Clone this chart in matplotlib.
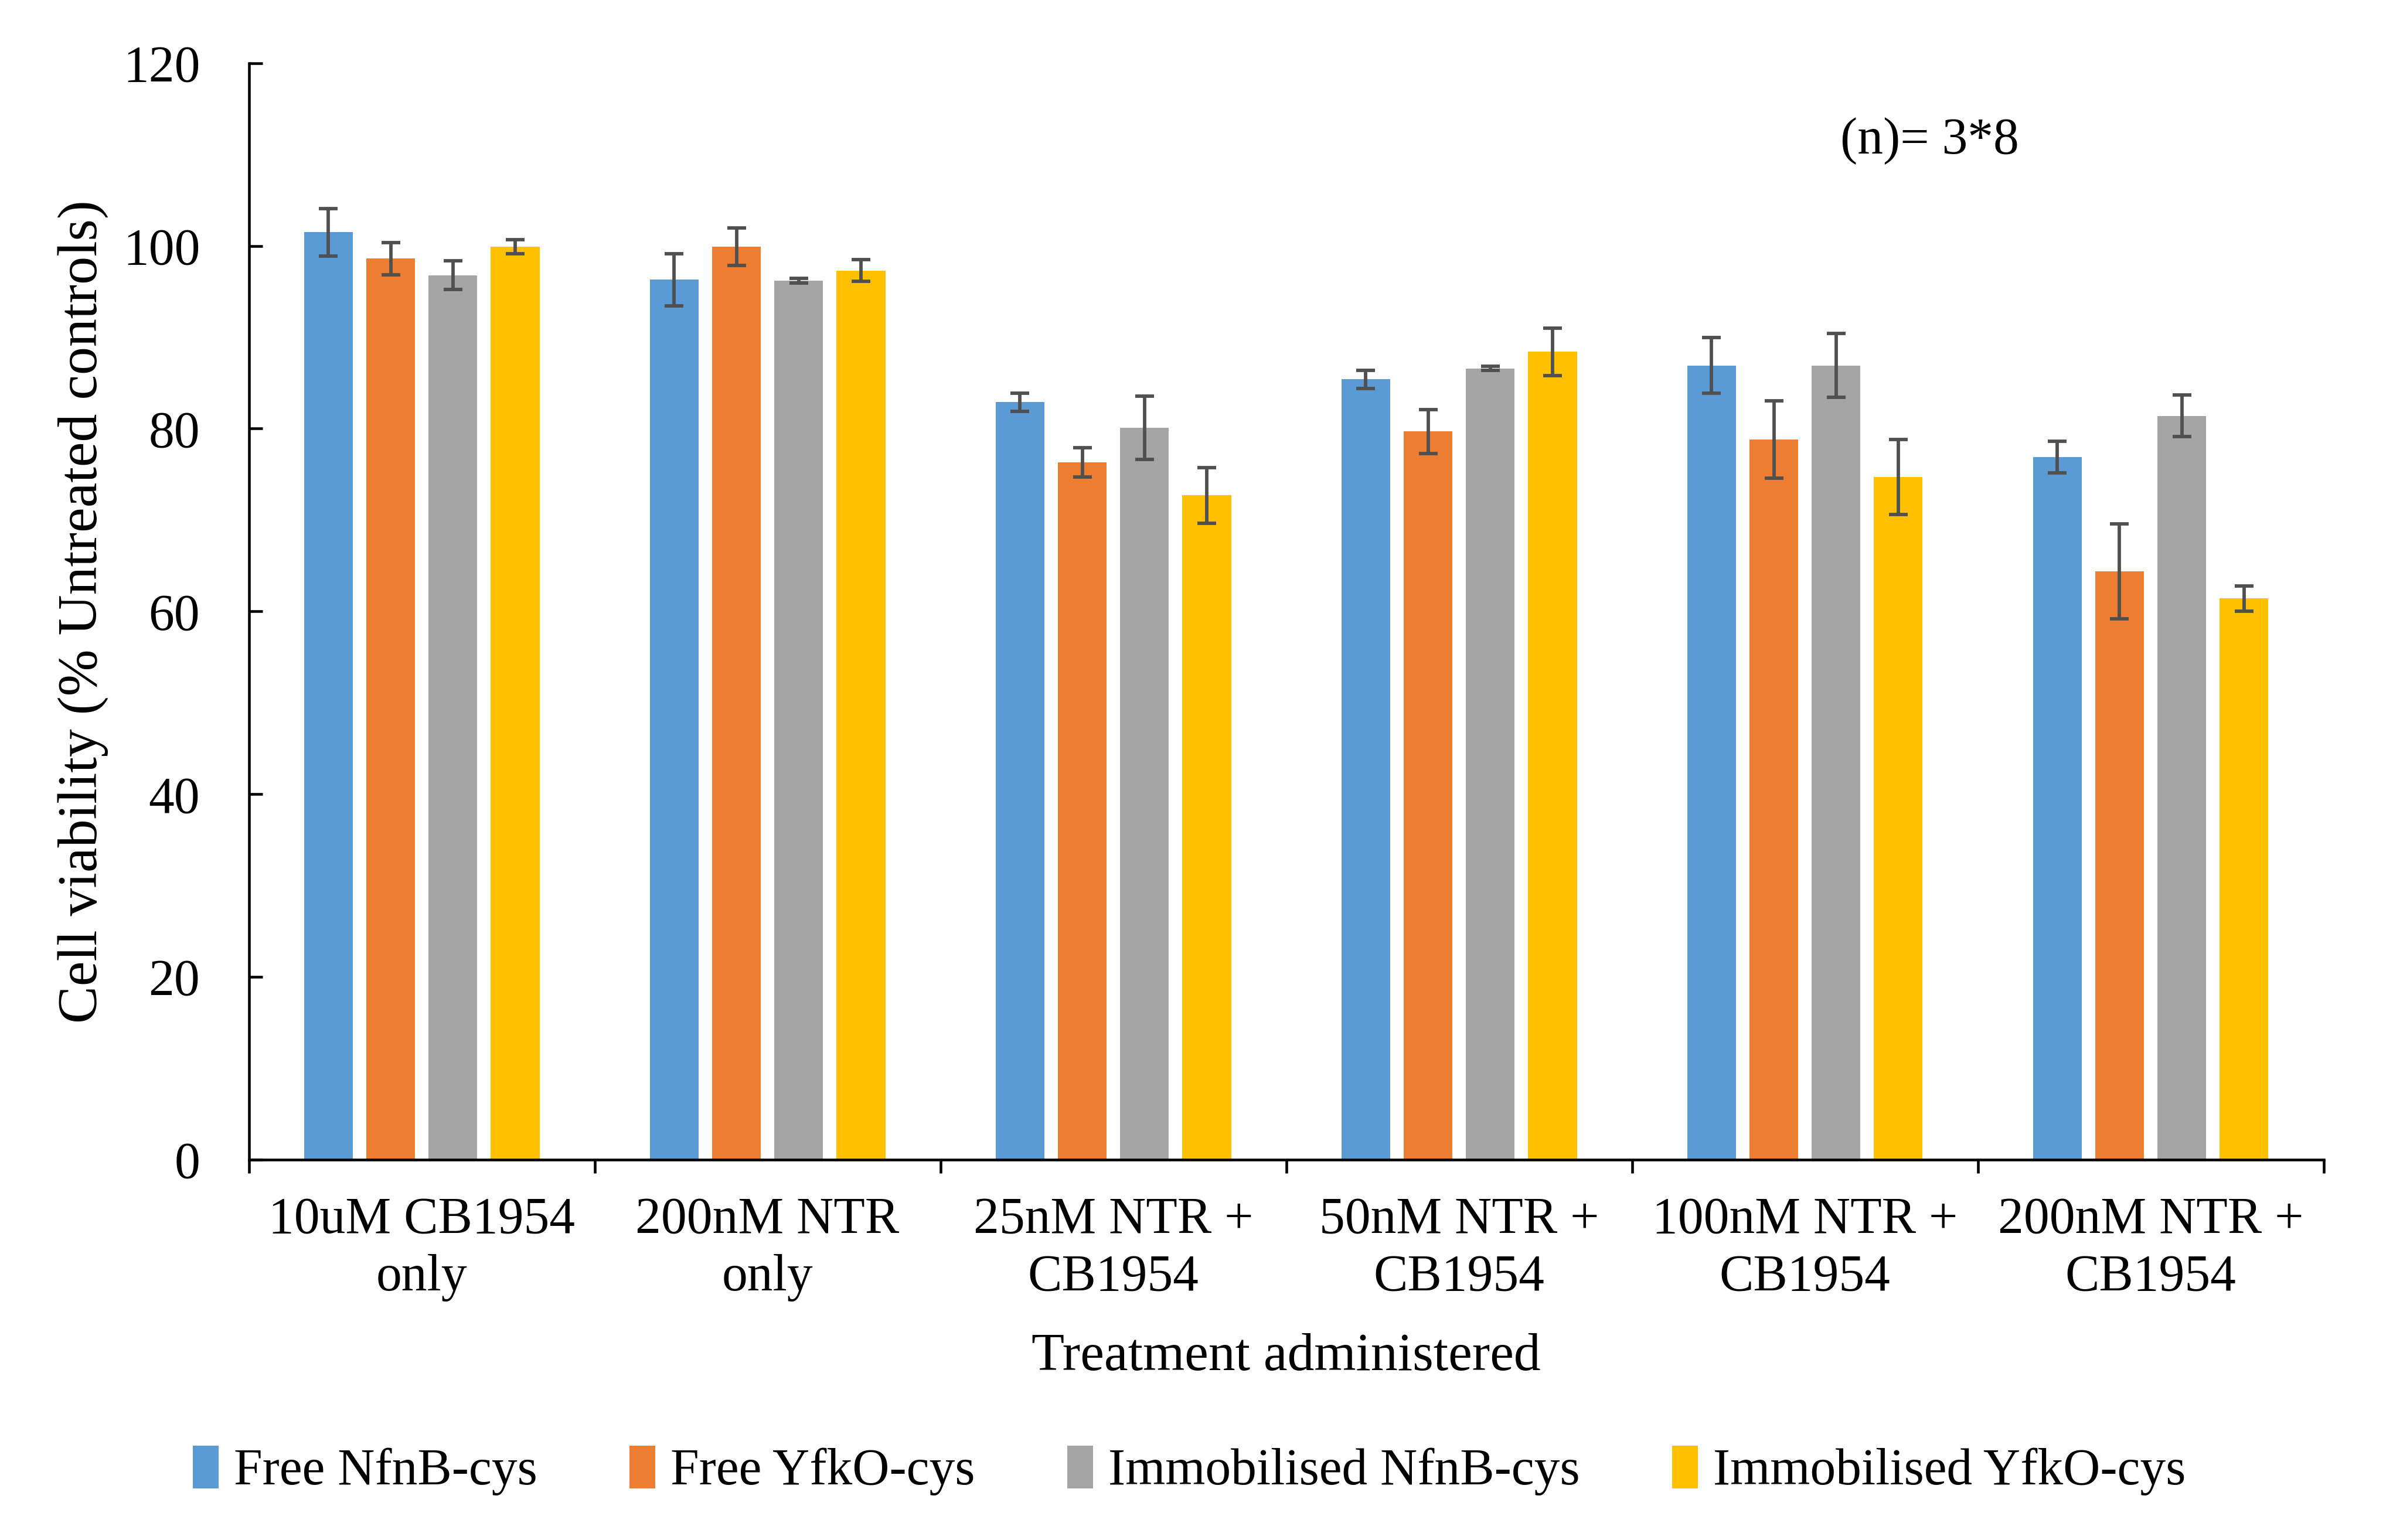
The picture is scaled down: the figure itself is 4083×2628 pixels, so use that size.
import numpy as np
import matplotlib.pyplot as plt
from matplotlib.ticker import FixedLocator

plt.rcParams['font.family'] = ['Liberation Serif', 'DejaVu Serif']

# treatments on the x axis
categories = ['10uM CB1954\nonly', '200nM NTR\nonly', '25nM NTR +\nCB1954',
              '50nM NTR +\nCB1954', '100nM NTR +\nCB1954', '200nM NTR +\nCB1954']

series = ['Free NfnB-cys', 'Free YfkO-cys', 'Immobilised NfnB-cys', 'Immobilised YfkO-cys']
colors = ['#5B9BD5', '#ED7D31', '#A5A5A5', '#FFC000']

# mean cell viability (% untreated controls)
free_nfnb = [101.5, 96.3, 82.9, 85.4, 86.9, 76.9]
free_yfko = [98.6, 99.9, 76.3, 79.7, 78.8, 64.4]
immo_nfnb = [96.8, 96.2, 80.1, 86.6, 86.9, 81.4]
immo_yfko = [99.9, 97.3, 72.7, 88.4, 74.7, 61.4]

# error bars
err_free_nfnb = [2.6, 2.85, 1.0, 1.0, 3.05, 1.75]
err_free_yfko = [1.75, 2.05, 1.6, 2.4, 4.25, 5.2]
err_immo_nfnb = [1.6, 0.25, 3.45, 0.25, 3.5, 2.3]
err_immo_yfko = [0.75, 1.2, 3.05, 2.6, 4.1, 1.4]

values = [free_nfnb, free_yfko, immo_nfnb, immo_yfko]
errors = [err_free_nfnb, err_free_yfko, err_immo_nfnb, err_immo_yfko]

fig = plt.figure(figsize=(4083 / 300, 2628 / 300), dpi=300)
ax = fig.add_axes([0.104, 0.247, 0.867, 0.712])

x = np.arange(len(categories))
pitch = 0.18
width = 0.141
for j in range(4):
    ax.bar(x + (j - 1.5) * pitch, values[j], width, color=colors[j], label=series[j],
           yerr=errors[j], error_kw=dict(ecolor='#505050', elinewidth=1.4, capsize=3.8,
                                         capthick=1.4), zorder=2)

ax.set_xlim(-0.5, 5.5)
ax.set_ylim(0, 120)
ax.set_yticks(range(0, 121, 20))
ax.set_xticks(x)
ax.set_xticklabels(categories, fontsize=21, linespacing=1.28)
ax.xaxis.set_minor_locator(FixedLocator(np.arange(-0.5, 6, 1)))
ax.tick_params(axis='x', which='major', length=0, pad=15)
ax.tick_params(axis='x', which='minor', direction='out', length=5.5, width=1.1)
ax.tick_params(axis='y', direction='in', length=5.5, width=1.1, labelsize=21, pad=20)

for s in ['top', 'right']:
    ax.spines[s].set_visible(False)
for s in ['left', 'bottom']:
    ax.spines[s].set_linewidth(1.1)

ax.set_ylabel('Cell viability (% Untreated controls)', fontsize=23, labelpad=6)
ax.set_xlabel('Treatment administered', fontsize=22, labelpad=13)

ax.text(4.36, 111.5, '(n)= 3*8', fontsize=21, ha='center', va='center')

fig.legend(loc='center', bbox_to_anchor=(0.497, 0.045), ncol=4, frameon=False,
           fontsize=21, handlelength=0.5, handleheight=0.9, handletextpad=0.3,
           columnspacing=1.8)

fig.savefig('out.png', dpi=300, facecolor='white')
